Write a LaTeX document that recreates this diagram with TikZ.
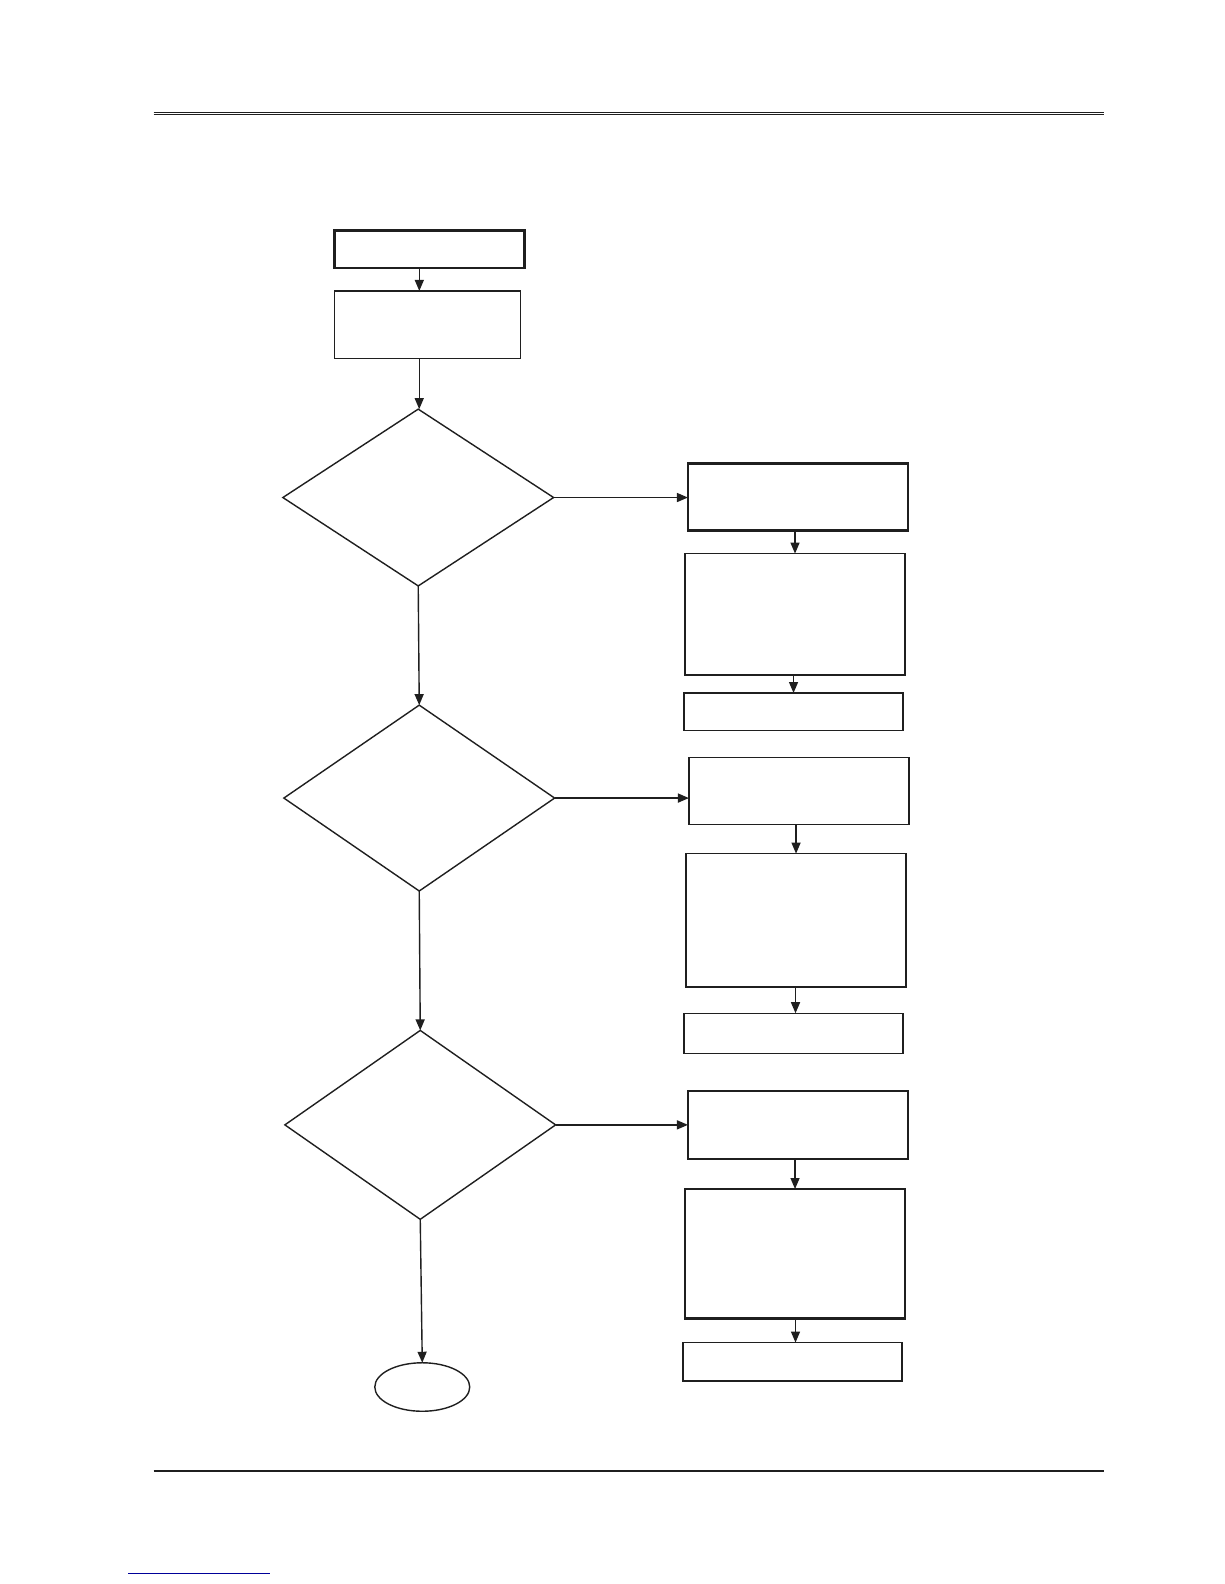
\documentclass[tikz,border=0pt]{standalone}
\usetikzlibrary{shapes.geometric,arrows.meta}
\begin{document}
\begin{tikzpicture}[x=1.0099pt,y=-1.0099pt,
  sz/.style 2 args={minimum width=#1*1.0099pt,minimum height=#2*1.0099pt},
  thinbox/.style={draw=black!88,line width=1.4pt,rectangle,inner sep=0pt,outer sep=0pt},
  thickbox/.style={draw=black!88,line width=2.4pt,rectangle,inner sep=0pt,outer sep=0pt},
  dec/.style={draw=black!88,line width=1.4pt,diamond,inner sep=0pt,outer sep=0pt},
  term/.style={draw=black!88,line width=1.4pt,ellipse,inner sep=0pt,outer sep=0pt},
  arr/.style={draw=black!88,line width=1.4pt,-{Triangle[length=11pt,width=9pt]}},
  rule/.style={draw=black!88}]
\useasboundingbox (0,0) rectangle (1212,1568);
% header and footer rules
\coordinate (h1) at (152,111.3);
\coordinate (h2) at (1093,111.3);
\coordinate (h3) at (152,113.6);
\coordinate (h4) at (1093,113.6);
\draw[rule,line width=1.1pt] (h1) -- (h2);
\draw[rule,line width=1.1pt] (h3) -- (h4);
\coordinate (f1) at (152,1456);
\coordinate (f2) at (1093,1456);
\draw[rule,line width=2pt] (f1) -- (f2);
\coordinate (l1) at (127,1558);
\coordinate (l2) at (267,1558);
\draw[draw=blue!60!black,line width=1pt] (l1) -- (l2);
% main column
\node[thickbox,sz={188}{37}] (b1) at (425,246.5) {};
\node[thinbox,sz={184}{67}] (b2) at (423,321.5) {};
\node[dec,sz={268}{175}] (d1) at (414,492.5) {};
\node[dec,sz={268}{184}] (d2) at (415,790) {};
\node[dec,sz={268}{187}] (d3) at (416,1113.5) {};
\node[term,sz={94}{48}] (e) at (418,1373) {};
% right column
\node[thickbox,sz={218}{66}] (a1) at (790,492) {};
\node[thinbox,sz={218}{120}] (a2) at (787,608) {};
\node[thinbox,sz={217}{37}] (a3) at (785.5,704.5) {};
\node[thinbox,sz={218}{66}] (c1b) at (791,783) {};
\node[thinbox,sz={218}{132}] (c2b) at (788,911) {};
\node[thinbox,sz={217}{40}] (c3b) at (785.5,1023) {};
\node[thickbox,sz={218}{67}] (g1) at (790,1113.5) {};
\node[thickbox,sz={218}{128}] (g2) at (787,1241) {};
\node[thinbox,sz={217}{38}] (g3) at (784.5,1348) {};
% connectors
\draw[arr] ([xshift=-8pt]b2.north |- b1.south) -- ([xshift=-8pt]b2.north);
\draw[arr] ([xshift=1pt]d1.north |- b2.south) -- ([xshift=1pt]d1.north);
\draw[arr] (d1.east) -- (a1.west |- d1.east);
\draw[arr] (d1.south) -- (d2.north);
\draw[arr] (d2.east) -- (c1b.west |- d2.east);
\draw[arr] (d2.south) -- (d3.north);
\draw[arr] (d3.east) -- (g1.west |- d3.east);
\draw[arr] (d3.south) -- (e.north);
\draw[arr] (a2.north |- a1.south) -- (a2.north);
\draw[arr] (a3.north |- a2.south) -- (a3.north);
\draw[arr] (c2b.north |- c1b.south) -- (c2b.north);
\draw[arr] ([xshift=2pt]c3b.north |- c2b.south) -- ([xshift=2pt]c3b.north);
\draw[arr] (g2.north |- g1.south) -- (g2.north);
\draw[arr] ([xshift=3pt]g3.north |- g2.south) -- ([xshift=3pt]g3.north);
\end{tikzpicture}
\end{document}
